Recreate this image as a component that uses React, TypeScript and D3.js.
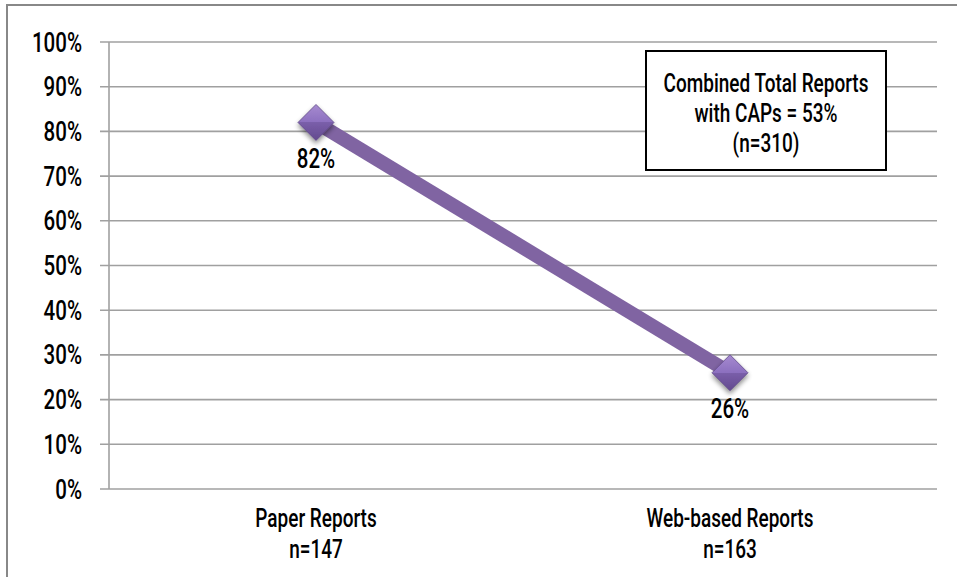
import React from "react";
import * as d3 from "d3";

const categories = ["Paper Reports", "Web-based Reports"];
const categoryCounts = ["n=147", "n=163"];
const percentValues = [82, 26];
const yTicks = [0, 10, 20, 30, 40, 50, 60, 70, 80, 90, 100];
const noteLines = ["Combined Total Reports", "with CAPs = 53%", "(n=310)"];

const W = 957;
const H = 577;
const FONT = "Roboto, 'Noto Sans', sans-serif";
const SX = 0.76;
const FS = 27;

// Condensed label: horizontally squeezed text anchored at (x, y)
function Label({
  x,
  y,
  anchor = "middle",
  size = FS,
  children,
}: {
  x: number;
  y: number;
  anchor?: "start" | "middle" | "end";
  size?: number;
  children: React.ReactNode;
}) {
  return (
    <text
      transform={`translate(${x},${y}) scale(${SX},1)`}
      textAnchor={anchor}
      fontFamily={FONT}
      fontSize={size}
      fontWeight={500}
      fill="#000"
    >
      {children}
    </text>
  );
}

export default function App() {
  const left = 109;
  const right = 937;
  const top = 42;
  const bottom = 489;

  const x = d3.scaleBand<string>().domain(categories).range([left, right]);
  const y = d3.scaleLinear().domain([0, 100]).range([bottom, top]);
  const cx = (c: string) => (x(c) as number) + x.bandwidth() / 2;

  const pts = categories.map((c, i) => [cx(c), y(percentValues[i])] as [number, number]);
  const line = d3.line<[number, number]>()(pts) || "";
  const r = 18;

  return (
    <svg
      width={W}
      height={H}
      style={{ position: "absolute", left: 0, top: 0, background: "#fff" }}
    >
      <defs>
        <linearGradient id="mk" x1="0" y1="0" x2="0" y2="1">
          <stop offset="0%" stopColor="#a68bd0" />
          <stop offset="50%" stopColor="#8c6fbf" />
          <stop offset="50%" stopColor="#7a5eaa" />
          <stop offset="100%" stopColor="#634a8e" />
        </linearGradient>
        <filter id="sh" x="-50%" y="-50%" width="200%" height="200%">
          <feGaussianBlur in="SourceAlpha" stdDeviation="2.5" />
          <feOffset dx="0" dy="3" result="b" />
          <feComponentTransfer>
            <feFuncA type="linear" slope="0.45" />
          </feComponentTransfer>
          <feMerge>
            <feMergeNode />
            <feMergeNode in="SourceGraphic" />
          </feMerge>
        </filter>
      </defs>

      {/* chart frame */}
      <rect x={7} y={5} width={W + 10} height={H + 10} fill="none" stroke="#888" strokeWidth={2} />

      {/* grid + y ticks */}
      {yTicks.map((t) => (
        <g key={t}>
          <line x1={left - 9} x2={right} y1={y(t)} y2={y(t)} stroke="#a0a0a0" strokeWidth={1.6} />
          <Label x={82} y={y(t) + 9.5} anchor="end">
            {t}%
          </Label>
        </g>
      ))}
      <line x1={left} x2={left} y1={top} y2={bottom} stroke="#a0a0a0" strokeWidth={1.6} />

      {/* category labels */}
      {categories.map((c, i) => (
        <g key={c}>
          <Label x={cx(c)} y={527} size={25}>{c}</Label>
          <Label x={cx(c)} y={558} size={25}>{categoryCounts[i]}</Label>
        </g>
      ))}

      {/* series line */}
      <path d={line} fill="none" stroke="#8064a2" strokeWidth={14} />

      {/* markers */}
      {pts.map(([px, py], i) => (
        <g key={i} filter="url(#sh)">
          <path
            d={`M${px},${py - r}L${px + r},${py}L${px},${py + r}L${px - r},${py}Z`}
            fill="url(#mk)"
            stroke="#5e4787"
            strokeWidth={0.8}
          />
        </g>
      ))}

      {/* value labels */}
      {pts.map(([px, py], i) => (
        <Label key={"v" + i} x={px} y={py + 45.5}>
          {percentValues[i]}%
        </Label>
      ))}

      {/* note box */}
      <rect x={646} y={51} width={240} height={119} fill="#fff" stroke="#000" strokeWidth={2} />
      {noteLines.map((l, i) => (
        <Label key={i} x={766} y={92 + i * 30} size={25}>
          {l}
        </Label>
      ))}
    </svg>
  );
}
